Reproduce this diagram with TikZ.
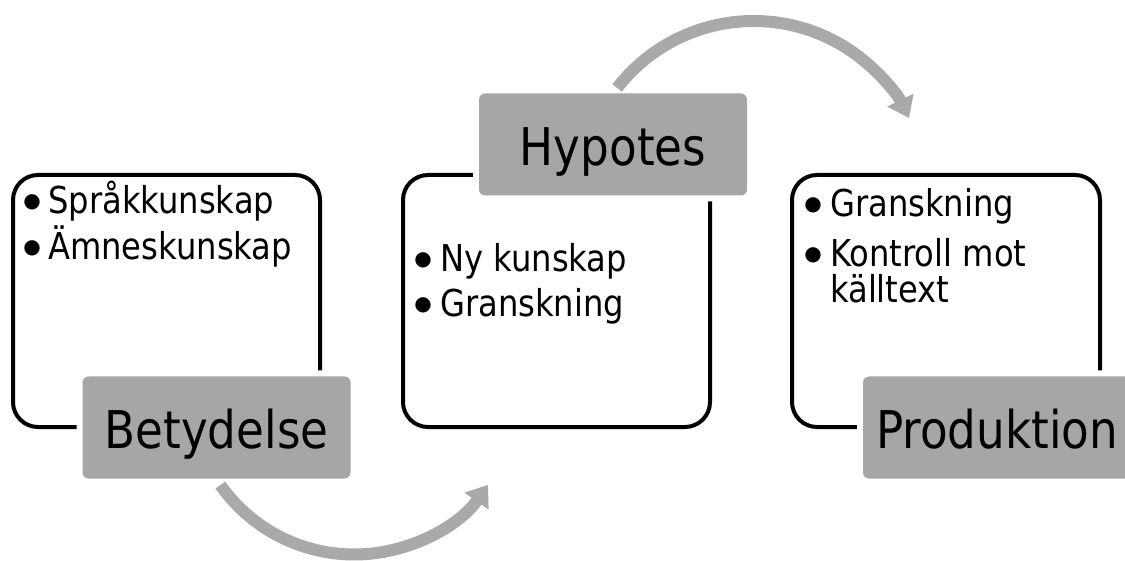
\documentclass[tikz,border=0pt]{standalone}
\usepackage{fontspec}
\setmainfont[FakeStretch=0.87]{DejaVu Sans}
\newfontfamily\dotfont{DejaVu Sans}
\usetikzlibrary{arrows.meta,calc}
\definecolor{lblgray}{HTML}{A6A6A6}
\definecolor{arrgray}{HTML}{A9A9A9}
\begin{document}
\begin{tikzpicture}[x=1pt,y=-1pt,
  outlinebox/.style={draw=black, line width=4pt, rounded corners=25pt, inner sep=0pt},
  labelbox/.style={fill=lblgray, rounded corners=6pt, inner sep=0pt,
    preaction={draw=white, line width=12pt},
    minimum width=268pt, minimum height=102pt,
    text height=42pt, text depth=0pt,
    font=\fontsize{52}{60}\selectfont},
  bulletdot/.style={anchor=center, inner sep=0pt,
    font=\dotfont\fontsize{20}{24}\selectfont},
  itemtext/.style={anchor=base west, inner sep=0pt, font=\fontsize{37}{44}\selectfont},
  cyclearrow/.style={draw=arrgray, line width=12pt,
    -{Triangle[length=20pt, width=28pt]}}
]
\clip (0,0) rectangle (1125,561);
\fill[white] (0,0) rectangle (1125,561);

% outline boxes
\node[outlinebox, minimum width=307pt, minimum height=252pt] (o1) at (166.5,301) {};
\node[outlinebox, minimum width=307pt, minimum height=252pt] (o2) at (556.5,301) {};
\node[outlinebox, minimum width=308pt, minimum height=252pt] (o3) at (946,301) {};

% label boxes
\node[labelbox] (betydelse) at (216.5,427.5) {Betydelse};
\node[labelbox] (hypotes) at (613,144.5) {Hypotes};
\node[labelbox] (produktion) at (997,427.5) {Produktion};

% box 1 items
\node[bulletdot] (b1a) at (32,202) {●};
\node[itemtext] (t1a) at (48,214) {Språkkunskap};
\node[bulletdot] (b1b) at (32,248) {●};
\node[itemtext] (t1b) at (48,260) {Ämneskunskap};

% box 2 items
\node[bulletdot] (b2a) at (423,260) {●};
\node[itemtext] (t2a) at (440,272) {Ny kunskap};
\node[bulletdot] (b2b) at (423,305) {●};
\node[itemtext] (t2b) at (440,317) {Granskning};

% box 3 items
\node[bulletdot] (b3a) at (813,205) {●};
\node[itemtext] (t3a) at (830,217) {Granskning};
\node[bulletdot] (b3b) at (813,255) {●};
\node[itemtext] (t3b) at (830,267) {Kontroll mot};
\node[itemtext] (t3c) at (830,303) {källtext};

% cycle arrows
\coordinate (c1) at (354.1,391);
\coordinate (c2) at (753.7,193.9);
\draw[cyclearrow] ($(c1)+(144.9:163.5)$) arc[start angle=144.9, end angle=35, radius=163.5];
\draw[cyclearrow] ($(c2)+(-142.2:172.9)$) arc[start angle=-142.2, end angle=-26, radius=172.9];
\end{tikzpicture}
\end{document}
